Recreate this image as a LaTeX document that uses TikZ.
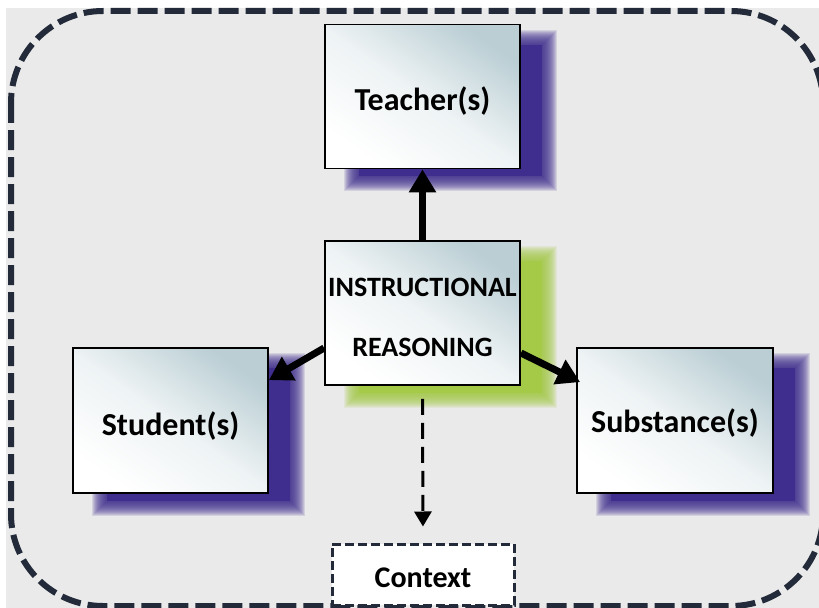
\documentclass[tikz,border=0pt]{standalone}
\usepackage{fontspec}
\setmainfont{Carlito}
\usetikzlibrary{arrows.meta,calc}

\definecolor{panelgray}{RGB}{234,234,234}
\definecolor{framecol}{RGB}{35,43,58}
\definecolor{shadowpurple}{RGB}{64,46,142}
\definecolor{shadowgreen}{RGB}{165,202,72}
\definecolor{boxtint}{RGB}{186,206,212}

\pgfdeclarelayer{back}
\pgfsetlayers{back,main}

% soft drop shadow behind a node: #1 node, #2 colour
\newcommand\softshadow[2]{%
  \begin{pgfonlayer}{back}
    \foreach \b in {8,7,...,-6}
      \fill[#2, opacity=0.13]
        ($(#1.south west)+(28-\b,14+\b)$) rectangle ($(#1.north east)+(28+\b,14-\b)$);
    \fill[#2] ($(#1.south west)+(35,7)$) rectangle ($(#1.north east)+(21,21)$);
  \end{pgfonlayer}}

\tikzset{
  conceptbox/.style={draw=black, line width=1.8bp, minimum width=195bp,
    minimum height=144bp, inner sep=0pt, align=center,
    top color=boxtint, bottom color=white, middle color=white!75!boxtint,
    shading angle=-35, text height=28bp, text depth=0pt,
    font=\bfseries\fontsize{32bp}{38bp}\selectfont},
  thickarrow/.style={line width=7bp, -{Triangle[length=23bp,width=26bp]}},
  contextbox/.style={draw=framecol, fill=white, line width=3bp,
    dash pattern=on 9bp off 4bp, minimum width=182bp, minimum height=61bp,
    inner sep=0pt, text height=25bp, text depth=0pt,
    font=\bfseries\fontsize{30bp}{34bp}\selectfont},
}

\begin{document}
\begin{tikzpicture}[x=1bp, y=-1bp]
  \clip (0,0) rectangle (819,608);
  \begin{pgfonlayer}{back}
    \fill[white] (0,0) rectangle (819,608);
    \fill[panelgray] (6,8) rectangle (819,608);
  \end{pgfonlayer}

  % outer dashed frame
  \draw[framecol, line width=6bp, dash pattern=on 20bp off 7bp,
        rounded corners=92bp] (11,11) rectangle (823,606);

  % concept boxes
  \node[conceptbox] (teacher) at (422.5,96.5) {Teacher(s)};
  \node[conceptbox, text height=86bp,
        font=\bfseries\fontsize{28bp}{60bp}\selectfont]
        (reason) at (422.5,313) {INSTRUCTIONAL\\REASONING};
  \node[conceptbox, minimum height=145bp, text height=29bp]
        (student) at (170.5,420.5) {Student(s)};
  \node[conceptbox, minimum height=145bp, minimum width=196bp, text height=24bp]
        (subst) at (675,420.5) {Substance(s)};
  \node[contextbox] (context) at (423,574.5) {Context};

  \softshadow{teacher}{shadowpurple}
  \softshadow{reason}{shadowgreen}
  \softshadow{student}{shadowpurple}
  \softshadow{subst}{shadowpurple}

  % connectors
  \draw[thickarrow] (reason.north) -- (teacher.south);
  \draw[thickarrow] ($(reason.west)+(0,35)$) -- ($(student.north east)+(0,33)$);
  \draw[thickarrow] ($(reason.east)+(0,40)$) -- ($(subst.north west)+(4,35)$);
  \draw[line width=3bp, dash pattern=on 16bp off 8bp,
        -{Triangle[length=15bp,width=17bp]}, shorten >=16bp]
        ($(reason.south)+(0,13)$) -- (context.north);
\end{tikzpicture}
\end{document}
